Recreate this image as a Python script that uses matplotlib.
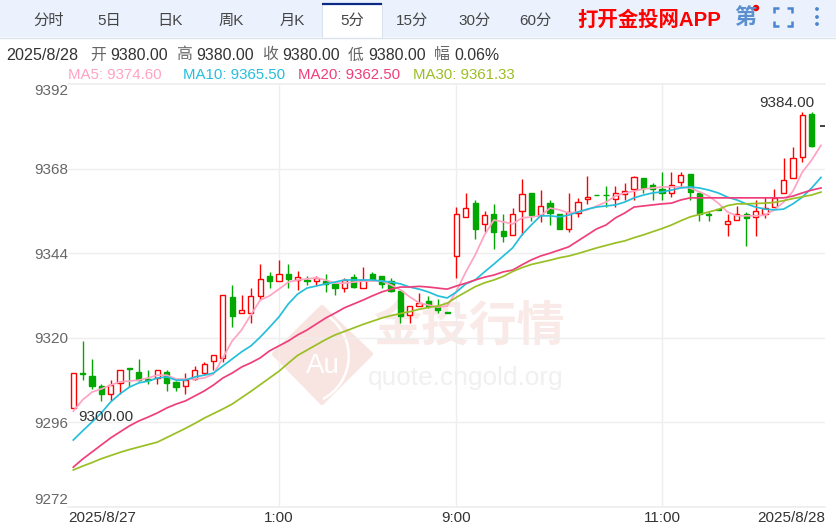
#!/usr/bin/env python3
"""
5 minute gold candlestick chart with moving averages and quote page header
"""

import matplotlib
matplotlib.use('Agg')
import matplotlib.pyplot as plt
from matplotlib.patches import Polygon, Rectangle, Wedge, Circle
import numpy as np

plt.rcParams['font.family'] = ['Liberation Sans', 'Noto Sans CJK SC', 'DejaVu Sans']

opens = [9300, 9310, 9309.3, 9306.3, 9304, 9307.3, 9311.3, 9310.2, 9308.3, 9308.5,
         9310.2, 9307.4, 9306.2, 9308.3, 9310.1, 9313.4, 9314.4, 9331.5, 9327, 9327,
         9331.9, 9337.5, 9336.2, 9338.1, 9336.3, 9336.3, 9336.2, 9336.2, 9335.3, 9334,
         9337.3, 9334, 9338.1, 9337.5, 9336.2, 9333.4, 9326.5, 9329.1, 9330.4, 9329,
         9327.2, 9343.3, 9354.2, 9358.3, 9352.2, 9355, 9350.3, 9349.3, 9356, 9361.2,
         9354.8, 9358.3, 9355, 9351, 9355.5, 9359.3, 9360.6, 9360.6, 9359.3, 9360.8,
         9362.1, 9365.3, 9363.3, 9362.1, 9361, 9364.2, 9366.4, 9361, 9355, 9356.4,
         9352.2, 9353.4, 9355.1, 9354.3, 9355.1, 9357, 9361, 9365.2, 9371.2, 9383.5,
         9380]
closes = [9310, 9309.8, 9306.4, 9304, 9306.6, 9310.8, 9311.1, 9308, 9308.1, 9310.8,
          9307.3, 9306.1, 9308, 9310.8, 9312.6, 9315, 9332, 9326.3, 9327.8, 9331.8,
          9336.6, 9336.1, 9338.1, 9336.7, 9337.2, 9336.1, 9336.9, 9335.2, 9334, 9336.4,
          9334.5, 9336.4, 9336.6, 9335.4, 9333.4, 9326.2, 9329, 9330, 9329, 9328,
          9327, 9355, 9356.8, 9351, 9354.7, 9350.1, 9349, 9355, 9360.7, 9354.8,
          9357.5, 9355.3, 9351, 9355.8, 9358.6, 9360, 9360.4, 9360.4, 9361, 9361.7,
          9365.7, 9362.4, 9362.1, 9361, 9363.3, 9366.1, 9361.5, 9355.1, 9354.9, 9356.2,
          9353, 9355.1, 9353.9, 9356.1, 9356.7, 9359.8, 9364.8, 9370.9, 9383.2, 9374.5,
          9380]
highs = [9310, 9319, 9314, 9307, 9308, 9310.8, 9311.3, 9314, 9310.9, 9310.8,
         9310.9, 9307.8, 9309.9, 9312, 9313, 9315, 9332, 9335, 9332.1, 9334,
         9340.9, 9338.8, 9342, 9340.9, 9339, 9337.5, 9337.5, 9338.1, 9335.5, 9336.9,
         9338, 9340, 9338.8, 9337.5, 9336.9, 9333.4, 9329, 9332.8, 9331.9, 9330.9,
         9327.2, 9357, 9361, 9359, 9356, 9358, 9355, 9356.9, 9365, 9361.2,
         9361.9, 9359, 9355, 9361, 9359.8, 9365.9, 9360.6, 9363, 9363, 9364,
         9365.9, 9365.3, 9364, 9366.9, 9366.9, 9366.9, 9366.4, 9361, 9355.8, 9356.4,
         9355, 9357.5, 9355.8, 9359.1, 9359.9, 9362.1, 9370.9, 9374, 9384, 9384,
         9380]
lows = [9300, 9308, 9305.4, 9302, 9302, 9304, 9306, 9307.8, 9307, 9307,
        9305, 9305, 9304, 9308, 9309.4, 9310.9, 9313.2, 9323, 9327, 9324.1,
        9330.7, 9334, 9336.2, 9334, 9333.7, 9335, 9335, 9333.1, 9332.1, 9333.1,
        9334, 9334, 9336.2, 9334, 9333.1, 9324.1, 9324.1, 9329.1, 9328.4, 9327.1,
        9327, 9336.9, 9354.2, 9348, 9350.1, 9345.1, 9347.1, 9349.1, 9349.2, 9353.1,
        9352.9, 9352, 9351, 9350.1, 9354.2, 9358, 9360.4, 9357.2, 9357.2, 9359.1,
        9359.1, 9361, 9359.1, 9359.1, 9360, 9362.9, 9359.1, 9353.2, 9353.2, 9356.2,
        9349, 9353.4, 9346.1, 9349, 9353.9, 9357, 9361, 9365.2, 9370, 9374,
        9380]

ma5 = [9299.2, 9302.4, 9304.6, 9305.5, 9306.6, 9307.5, 9307.7, 9308, 9308.6, 9309.4,
       9309.4, 9308.3, 9308.3, 9308.3, 9308.6, 9309.7, 9314.3, 9319.1, 9322.2, 9326.5,
       9330.7, 9331.9, 9333.8, 9335.8, 9336.4, 9336.7, 9337, 9336.4, 9335.5, 9335.5,
       9335.8, 9336.1, 9336.1, 9336.1, 9335, 9333.6, 9331.6, 9329.9, 9329.3, 9328.7,
       9329, 9333.3, 9338.7, 9343.5, 9349.2, 9353.4, 9352.9, 9352.3, 9354, 9354.3,
       9354.6, 9356.8, 9356.3, 9355.4, 9355.7, 9356.3, 9357.4, 9358.5, 9360.2, 9361.1,
       9361.6, 9362.2, 9362.5, 9362.8, 9362.8, 9362.8, 9362.5, 9361.4, 9360.2, 9358.2,
       9355.7, 9354.6, 9354.6, 9354.6, 9354.8, 9356.3, 9358.5, 9361.6, 9367, 9370.4,
       9374.6]
ma10 = [9291, 9293.6, 9296.1, 9298.7, 9301.8, 9304.1, 9306, 9307.2, 9307.7, 9308.6,
        9308.9, 9308, 9308, 9308.9, 9309.4, 9310, 9312, 9314, 9316, 9317.7,
        9320.2, 9323, 9325.9, 9329.6, 9332.4, 9334.1, 9334.7, 9335.3, 9335.8, 9336.4,
        9336.4, 9336.4, 9336.4, 9336.1, 9335.8, 9335.3, 9334.4, 9333.8, 9333, 9331.9,
        9331.3, 9333, 9335.3, 9336.4, 9338.7, 9340.9, 9343.2, 9345.5, 9349.2, 9352,
        9354.6, 9354.6, 9354.3, 9354.8, 9355.7, 9356.5, 9357.1, 9357.4, 9357.7, 9358.5,
        9359.7, 9360.5, 9361.1, 9361.4, 9361.9, 9362.5, 9362.8, 9362.5, 9361.9, 9361.1,
        9359.9, 9359.1, 9358, 9357.1, 9356.5, 9356.3, 9356.5, 9358, 9359.9, 9362.5,
        9365.5]
ma20 = [9283.3, 9285.6, 9287.6, 9289.6, 9291.6, 9293.3, 9295, 9296.4, 9297.5, 9298.7,
        9300.1, 9301.2, 9302.1, 9303.5, 9304.9, 9306.6, 9308.6, 9310, 9311.7, 9312.9,
        9314.3, 9316.3, 9317.7, 9319.1, 9320.8, 9322.2, 9323.9, 9325.6, 9327, 9328.5,
        9329.6, 9330.7, 9331.9, 9333, 9333.8, 9334.4, 9334.4, 9334.6, 9334.4, 9334.1,
        9333.8, 9334.7, 9335.5, 9336.4, 9337.2, 9337.8, 9338.7, 9339.2, 9340.7, 9342.1,
        9343.2, 9344, 9344.9, 9345.8, 9347.5, 9349.2, 9350.9, 9352, 9354, 9355.4,
        9357.1, 9357.4, 9357.7, 9358, 9358.2, 9359.1, 9359.7, 9359.7, 9359.7, 9359.7,
        9359.7, 9359.7, 9359.7, 9359.7, 9359.7, 9359.7, 9359.7, 9360.2, 9361.1, 9361.9,
        9362.5]
ma30 = [9282.5, 9283.6, 9284.6, 9285.7, 9286.6, 9287.5, 9288.3, 9289, 9289.7, 9290.4,
        9291.7, 9293, 9294.3, 9295.7, 9297.2, 9298.5, 9299.8, 9301.2, 9303, 9304.8,
        9306.7, 9308.6, 9310.5, 9312.8, 9315, 9316.5, 9318, 9319.5, 9320.8, 9321.8,
        9322.8, 9323.8, 9324.7, 9325.6, 9326.3, 9326.9, 9327.4, 9328.1, 9328.6, 9329,
        9329.8, 9331.5, 9333, 9334.5, 9335.6, 9336.4, 9337.4, 9338.8, 9339.9, 9340.8,
        9341.4, 9342, 9342.7, 9343.2, 9343.9, 9344.7, 9345.5, 9346.2, 9346.9, 9347.5,
        9348.4, 9349.2, 9350.1, 9351, 9352, 9353.2, 9354.3, 9355, 9355.7, 9356.4,
        9357.5, 9358, 9358, 9358.1, 9358.2, 9358.4, 9358.9, 9359.5, 9360, 9360.5,
        9361.33]

y_ticks = [9272, 9296, 9320, 9344, 9368, 9392]
time_ticks = [22, 41, 63]
time_labels = ['1:00', '9:00', '11:00']
tab_labels = ['分时', '5日', '日K', '周K', '月K', '5分', '15分', '30分', '60分']
tab_centers = [49, 109, 170, 231, 292, 352, 412, 475, 535]
header_labels = ['开', '高', '收', '低', '幅']
header_values = ['9380.00', '9380.00', '9380.00', '9380.00', '0.06%']
header_x = [90, 176, 262, 348, 434]
ma_names = ['MA5: 9374.60', 'MA10: 9365.50', 'MA20: 9362.50', 'MA30: 9361.33']
ma_x = [68, 183, 298, 413]
ma_colors = ['#ffa3c2', '#25bfdc', '#ef3f7b', '#9abf24']

W, H = 836, 526
RED = '#ff0000'
GREEN = '#00a800'
GRID = '#eeeeee'

fig = plt.figure(figsize=(W / 100, H / 100), dpi=100, facecolor='white')

# page coordinates, for the toolbar, the header text and the watermark
page = fig.add_axes([0, 0, 1, 1], zorder=0)
page.set_xlim(0, W)
page.set_ylim(H, 0)
page.axis('off')

# toolbar
page.add_patch(Rectangle((0, 0), W, 37, facecolor='#ebf2fd', edgecolor='none'))
page.plot([0, W], [37.5, 37.5], color='#dbe3ee', lw=1)
page.add_patch(Rectangle((322, 3), 60, 35, facecolor='white', edgecolor='none'))
page.plot([322, 322], [3, 37], color='#dbe3ee', lw=0.8)
page.plot([382, 382], [3, 37], color='#dbe3ee', lw=0.8)
page.plot([322, 382], [3.5, 3.5], color='#0b2a84', lw=1.6, solid_capstyle='butt')
for label, cx in zip(tab_labels, tab_centers):
    page.text(cx, 20.5, label, ha='center', va='center', fontsize=11, color='#444444')
page.text(577, 20, '打开金投网APP', ha='left', va='center', fontsize=14.7,
          color='#ff0000', fontweight='bold')
page.text(745, 19, '第', ha='center', va='center', fontsize=16, color='#5b8fd0', fontweight='bold')
page.add_patch(Circle((756, 8), 3.2, facecolor='#f00000', edgecolor='none'))
for bx, by, dx, dy in [(774, 8, 1, 1), (792, 8, -1, 1), (774, 26, 1, -1), (792, 26, -1, -1)]:
    page.plot([bx + 5 * dx, bx, bx], [by, by, by + 5 * dy], color='#4a86d0', lw=1.8,
              solid_capstyle='butt', solid_joinstyle='miter')
for dy in [9, 17, 24]:
    page.add_patch(Circle((817, dy), 1.9, facecolor='#4a86d0', edgecolor='none'))

# quote line and moving average legend
page.text(6, 55, '2025/8/28', ha='left', va='center', fontsize=11.6, color='#333333')
for label, value, lx in zip(header_labels, header_values, header_x):
    page.text(lx, 55, label, ha='left', va='center', fontsize=11.4, color='#666666')
    page.text(lx + 20, 55, value, ha='left', va='center', fontsize=11.4, color='#333333')
for name, mx, color in zip(ma_names, ma_x, ma_colors):
    page.text(mx, 75, name, ha='left', va='center', fontsize=10.8, color=color)

# watermark
page.add_patch(Polygon([(322, 307), (371, 354), (322, 403), (274, 354)], closed=True,
                       facecolor='#f8e4e0', edgecolor='#f8e4e0', lw=3, joinstyle='round'))
page.add_patch(Wedge((300, 356), 50, -55, 62, width=2.5, facecolor='white', edgecolor='none'))
page.text(323, 366, 'Au', ha='center', va='center', fontsize=20, color='white')
page.text(469, 328, '金投行情', ha='center', va='center', fontsize=34.5, color='#f9eae7',
          fontweight='bold')
page.text(466, 378, 'quote.cngold.org', ha='center', va='center', fontsize=18.9, color='#f0f0f0')

# chart area
ax = fig.add_axes([68 / W, 1 - 507 / H, (825 - 68) / W, (507 - 84) / H], zorder=1)
ax.patch.set_alpha(0)
ax.set_xlim(-0.567, 80.43)
ax.set_ylim(9272, 9392)
for side in ['left', 'right']:
    ax.spines[side].set_visible(False)
for side in ['top', 'bottom']:
    ax.spines[side].set_color(GRID)
    ax.spines[side].set_linewidth(1.2)

for tick in y_ticks[1:-1]:
    ax.axhline(tick, color=GRID, lw=1, zorder=1)
for tick in time_ticks:
    ax.axvline(tick, color=GRID, lw=1, zorder=1)

o = np.array(opens)
c = np.array(closes)
hi = np.array(highs)
lo = np.array(lows)
x = np.arange(len(o))
up = c >= o
colors = np.where(up, RED, GREEN)

# candles, the last one is only a flat dash
ax.vlines(x[:-1], lo[:-1], hi[:-1], colors=colors[:-1], lw=1, zorder=2)
ax.bar(x[up][:-1], (c - o)[up][:-1], bottom=o[up][:-1], width=0.56, facecolor='white',
       edgecolor=RED, lw=1, zorder=3)
ax.bar(x[~up], (c - o)[~up], bottom=o[~up], width=0.56, facecolor=GREEN,
       edgecolor=GREEN, lw=1, zorder=3)
ax.hlines(c[-1], x[-1] - 0.15, x[-1] + 0.4, colors='#222222', lw=1.2, zorder=3)

for values, color in zip([ma5, ma10, ma20, ma30], ma_colors):
    ax.plot(x, values, color=color, lw=1.25, zorder=4)

ax.text(0.5, 9299.4, '9300.00', ha='left', va='top', fontsize=11, color='#333333', zorder=5)
ax.text(79.3, 9384.6, '9384.00', ha='right', va='bottom', fontsize=11, color='#333333', zorder=5)

# tick labels
ax.tick_params(length=0, pad=0)
ax.set_yticks(y_ticks)
ax.set_yticklabels([str(t) for t in y_ticks], fontsize=11, color='#666666')
ax.get_yticklabels()[0].set_va('bottom')
ax.get_yticklabels()[-1].set_va('top')
ax.set_xticks([ax.get_xlim()[0]] + time_ticks + [ax.get_xlim()[1]])
ax.set_xticklabels(['2025/8/27'] + time_labels + ['2025/8/28'], fontsize=11, color='#333333')
ax.get_xticklabels()[0].set_ha('left')
ax.get_xticklabels()[-1].set_ha('right')
ax.tick_params(axis='x', pad=3)

fig.savefig('out.png', dpi=100)
